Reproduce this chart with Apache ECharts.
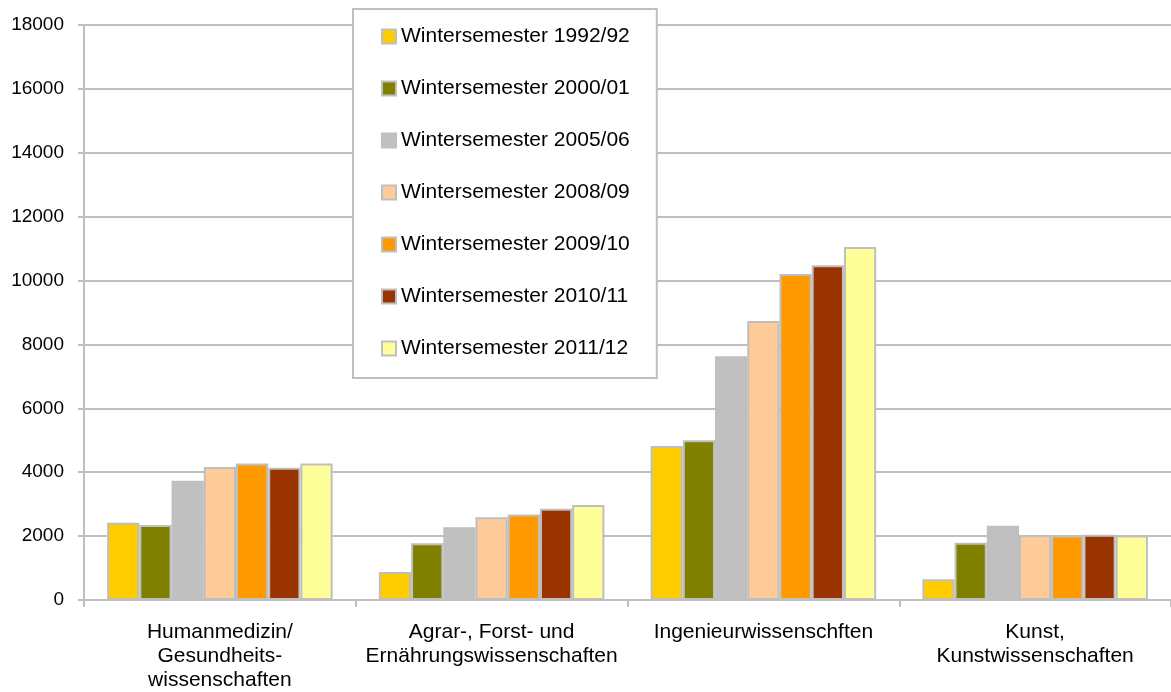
<!DOCTYPE html>
<html>
<head>
<meta charset="utf-8">
<script src="https://cdn.jsdelivr.net/npm/echarts@6/dist/echarts.min.js"></script>
<style>
  html, body { margin: 0; padding: 0; background: #fff; }
  #chart { width: 1171px; height: 692px; }
</style>
</head>
<body>
<div id="chart"></div>
<script>
var categories = [
    'Humanmedizin/\nGesundheits-\nwissenschaften',
    'Agrar-, Forst- und\nErnährungswissenschaften',
    'Ingenieurwissenschften',
    'Kunst,\nKunstwissenschaften'
];
var seriesNames = [
    'Wintersemester 1992/92',
    'Wintersemester 2000/01',
    'Wintersemester 2005/06',
    'Wintersemester 2008/09',
    'Wintersemester 2009/10',
    'Wintersemester 2010/11',
    'Wintersemester 2011/12'
];
var colors = ['#FFCC00', '#808000', '#C0C0C0', '#FFCC99', '#FF9900', '#993300', '#FFFF99'];

// Werte je Semester, Reihenfolge wie categories
var ws1992 = [2420, 880, 4820, 650];
var ws2000 = [2350, 1775, 5000, 1795];
var ws2005 = [3730, 2275, 7630, 2325];
var ws2008 = [4165, 2590, 8735, 2030];
var ws2009 = [4270, 2680, 10205, 2020];
var ws2010 = [4140, 2860, 10480, 2045];
var ws2011 = [4270, 2975, 11050, 2020];
var allValues = [ws1992, ws2000, ws2005, ws2008, ws2009, ws2010, ws2011];

var yTicks = { min: 0, max: 18000, interval: 2000 };

var font = 'Liberation Sans, Arial, sans-serif';
var myChart = echarts.init(document.getElementById('chart'));

var series = seriesNames.map(function (name, i) {
    return {
        name: name,
        type: 'bar',
        data: allValues[i],
        barGap: '0%',
        barCategoryGap: '17%',
        itemStyle: { color: colors[i], borderColor: '#BFBFBF', borderWidth: 2 },
        emphasis: { disabled: true }
    };
});

var option = {
    animation: false,
    backgroundColor: '#fff',
    grid: { left: 84, right: -5, top: 25, bottom: 92, containLabel: false },
    legend: {
        orient: 'vertical',
        left: 353,
        top: 9,
        padding: [17, 27, 19, 28],
        itemGap: 31,
        itemWidth: 14,
        itemHeight: 14,
        icon: 'rect',
        backgroundColor: '#fff',
        borderColor: '#BFBFBF',
        borderWidth: 2,
        textStyle: { fontFamily: font, fontSize: 21, color: '#000' },
        data: seriesNames
    },
    xAxis: {
        type: 'category',
        data: categories,
        axisLine: { lineStyle: { color: '#BFBFBF', width: 2 } },
        axisTick: { show: true, length: 7, lineStyle: { color: '#BFBFBF', width: 2 } },
        axisLabel: { fontFamily: font, fontSize: 21, color: '#000', margin: 20, lineHeight: 24, interval: 0 },
        splitLine: { show: false }
    },
    yAxis: {
        type: 'value',
        min: yTicks.min,
        max: yTicks.max,
        interval: yTicks.interval,
        axisLine: { show: true, lineStyle: { color: '#BFBFBF', width: 2 } },
        axisTick: { show: true, length: 6, lineStyle: { color: '#BFBFBF', width: 2 } },
        axisLabel: {
            fontFamily: font, fontSize: 19, color: '#000', margin: 20,
            formatter: function (v) { return String(v); }
        },
        splitLine: { lineStyle: { color: '#BFBFBF', width: 2 } }
    },
    series: series
};

myChart.setOption(option);

window.addEventListener('resize', function () {
    myChart.resize();
});
</script>
</body>
</html>
